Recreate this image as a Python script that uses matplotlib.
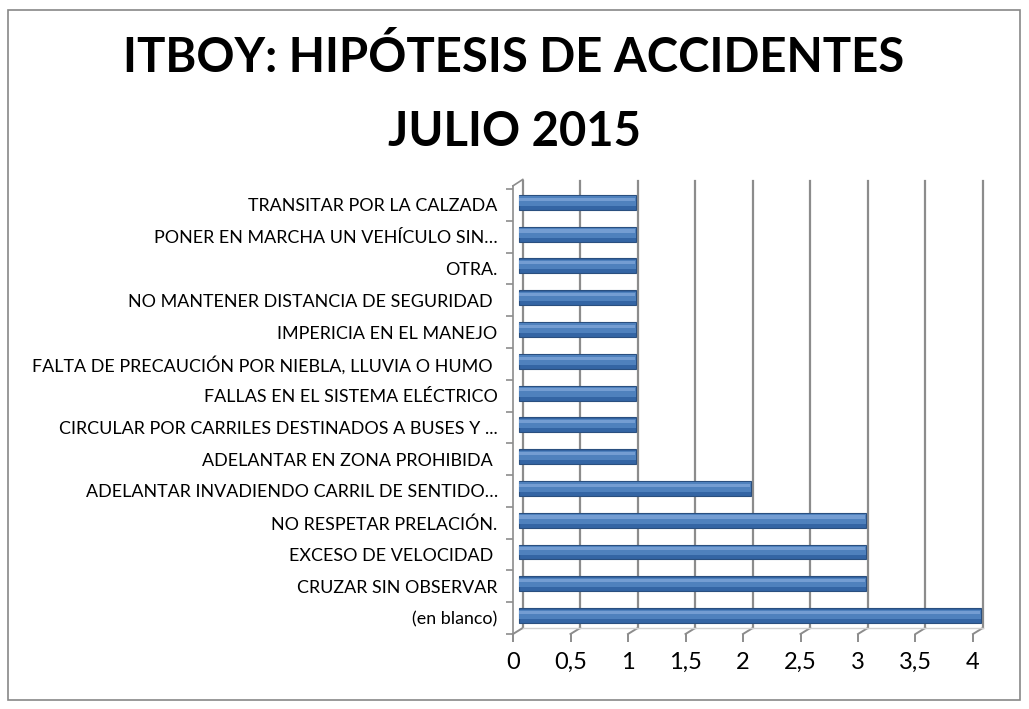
import matplotlib as mpl
import matplotlib.pyplot as plt
from matplotlib.patches import Rectangle

mpl.rcParams['font.family'] = ['Lato', 'DejaVu Sans']

# data (bottom to top as drawn)
categories = ['(en blanco)',
              'CRUZAR SIN OBSERVAR',
              'EXCESO DE VELOCIDAD ',
              'NO RESPETAR PRELACIÓN.',
              'ADELANTAR INVADIENDO CARRIL DE SENTIDO…',
              'ADELANTAR EN ZONA PROHIBIDA ',
              'CIRCULAR POR CARRILES DESTINADOS A BUSES Y ...',
              'FALLAS EN EL SISTEMA ELÉCTRICO',
              'FALTA DE PRECAUCIÓN POR NIEBLA, LLUVIA O HUMO ',
              'IMPERICIA EN EL MANEJO',
              'NO MANTENER DISTANCIA DE SEGURIDAD ',
              'OTRA.',
              'PONER EN MARCHA UN VEHÍCULO SIN…',
              'TRANSITAR POR LA CALZADA']
values = [4, 3, 3, 3, 2, 1, 1, 1, 1, 1, 1, 1, 1, 1]
xticks = [0, 0.5, 1, 1.5, 2, 2.5, 3, 3.5, 4]
xtick_labels = ['0', '0,5', '1', '1,5', '2', '2,5', '3', '3,5', '4']

W, H = 1029, 709
fig = plt.figure(figsize=(W / 100, H / 100), dpi=100)

# outer chart border
fig.patches.append(Rectangle((8 / W, 9 / H), 1012 / W, 690 / H,
                             transform=fig.transFigure, fill=False,
                             edgecolor='#878787', lw=1.2))

fig.text(514 / W, 1 - 57 / H, 'ITBOY: HIPÓTESIS DE ACCIDENTES',
         ha='center', va='center', fontsize=34, fontweight='bold')
fig.text(514 / W, 1 - 132 / H, 'JULIO 2015',
         ha='center', va='center', fontsize=34, fontweight='bold')

ax = fig.add_axes([513 / W, 1 - 634 / H, (973 - 513) / W, (634 - 189) / H])
ax.set_xlim(0, 4)
ax.set_ylim(-0.5, len(categories) - 0.5)
n = len(categories)

dx = 0.085
dy = 0.19
grid_c = '#8c8c8c'
# pseudo-3D back wall grid + floor
for x in xticks:
    ax.plot([x + dx, x + dx], [-0.5 + dy, n - 0.5 + 0.25],
            color=grid_c, lw=1.6, clip_on=False, zorder=1)
    ax.plot([x, x + dx], [-0.5, -0.5 + dy], color=grid_c, lw=1.4,
            clip_on=False, zorder=1)
ax.plot([dx, 4 + dx], [-0.5 + dy, -0.5 + dy], color='#d0d0d0', lw=1,
        clip_on=False, zorder=1)
ax.plot([0, 0], [-0.5, n - 0.5 + 0.1], color=grid_c, lw=1.2,
        clip_on=False, zorder=1)
ax.plot([0, dx], [n - 0.5 + 0.1, n - 0.5 + 0.3],
        color=grid_c, lw=1.2, clip_on=False, zorder=1)

ypos = [i + 0.08 for i in range(n)]
left = [0.05] * n
lengths = [v + 0.02 for v in values]
# cylinder look: dark base, mid body, light highlight
ax.barh(ypos, lengths, left=left, height=0.47,
        color='#3465a4', edgecolor='#2a4f7f', lw=0.8, zorder=3,
        clip_on=False)
ax.barh([y + 0.04 for y in ypos], lengths, left=left, height=0.3,
        color='#4F81BD', lw=0, zorder=4, clip_on=False)
ax.barh([y + 0.1 for y in ypos], [v - 0.01 for v in lengths],
        left=left, height=0.1, color='#84a9dc',
        lw=0, alpha=0.7, zorder=5, clip_on=False)

for s in ax.spines.values():
    s.set_visible(False)

ax.set_yticks(range(n))
ax.set_yticklabels(categories, fontsize=12.9)
ax.tick_params(axis='y', length=0, pad=11)
ax.set_yticks([i - 0.5 for i in range(n + 1)], minor=True)
ax.tick_params(axis='y', which='minor', length=5, color=grid_c, width=1.2)

ax.set_xticks(xticks)
ax.set_xticklabels(xtick_labels, fontsize=17)
ax.tick_params(axis='x', length=6, color=grid_c, width=1.4, pad=7)

fig.savefig('out.png', dpi=100)
